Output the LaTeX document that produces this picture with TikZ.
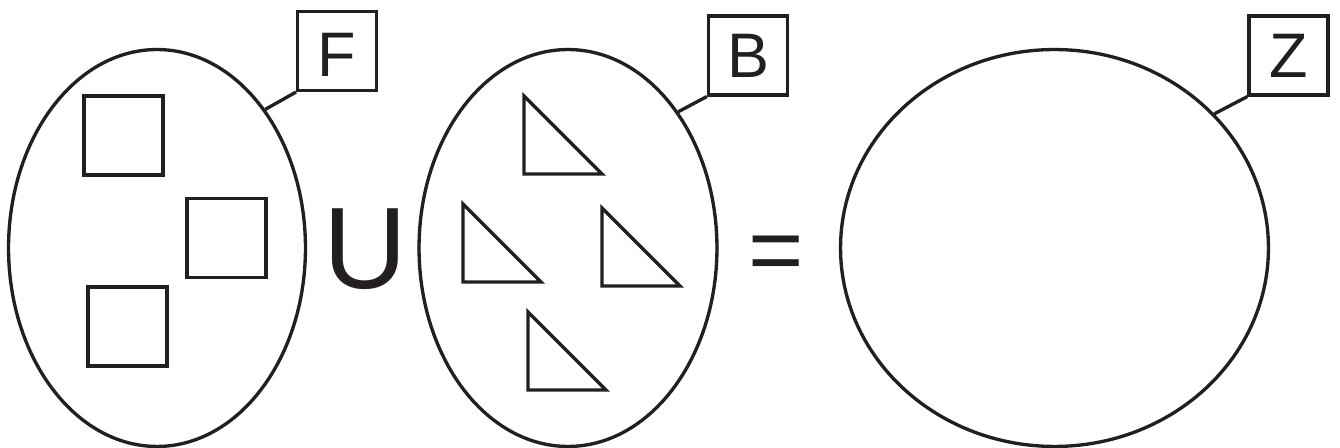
\documentclass[tikz,border=0pt]{standalone}
\usepackage{fontspec}
\setmainfont{Liberation Sans}
\usepackage{xcolor}
\usepackage{tikz}
\usetikzlibrary{shapes.geometric}
\definecolor{inkblack}{HTML}{231F20}

\begin{document}
\begin{tikzpicture}[x=0.02cm, y=-0.02cm, line width=1.9pt, color=inkblack, line join=miter,
    setshape/.style={draw, ellipse, inner sep=0pt, minimum height=7.94cm},
    namebox/.style={draw, minimum size=1.58cm, inner sep=0pt, font=\fontsize{35.8}{40}\selectfont},
    opsign/.style={inner sep=0pt}]
  \useasboundingbox (0,0) rectangle (1340,448);

  % the three sets
  \node[setshape, minimum width=5.94cm] (Fset) at (157,248) {};
  \node[setshape, minimum width=5.96cm] (Bset) at (568,248) {};
  \node[setshape, minimum width=8.56cm] (Zset) at (1054.5,248) {};

  % their names
  \node[namebox, text height=29.6pt, text depth=0pt] (Flabel) at (337.2,50.9) {F};
  \node[namebox] (Blabel) at (748,55.4) {B};
  \node[namebox] (Zlabel) at (1288.5,55.4) {Z};
  \draw (Fset.52) -- (Flabel.south west);
  \draw (Bset.51) -- (Blabel.south west);
  \draw (Zset.40) -- (Zlabel.south west);

  % operators
  \node[opsign, font=\fontsize{66}{70}\selectfont] (unionsign) at (365.5,249.5) {U};
  \node[opsign, font=\fontsize{54}{60}\selectfont] (equalsign) at (776.5,259) {=};

  % squares in F
  \foreach \x/\y in {84/96, 187/198.5, 88/287}
    \draw (\x,\y) rectangle ++(79,79);

  % triangles in B
  \foreach \x/\y in {524/174, 463/282, 602/286, 528/390}
    \draw (\x,\y) -- ++(0,-78) -- ++(78,78) -- cycle;
\end{tikzpicture}
\end{document}
